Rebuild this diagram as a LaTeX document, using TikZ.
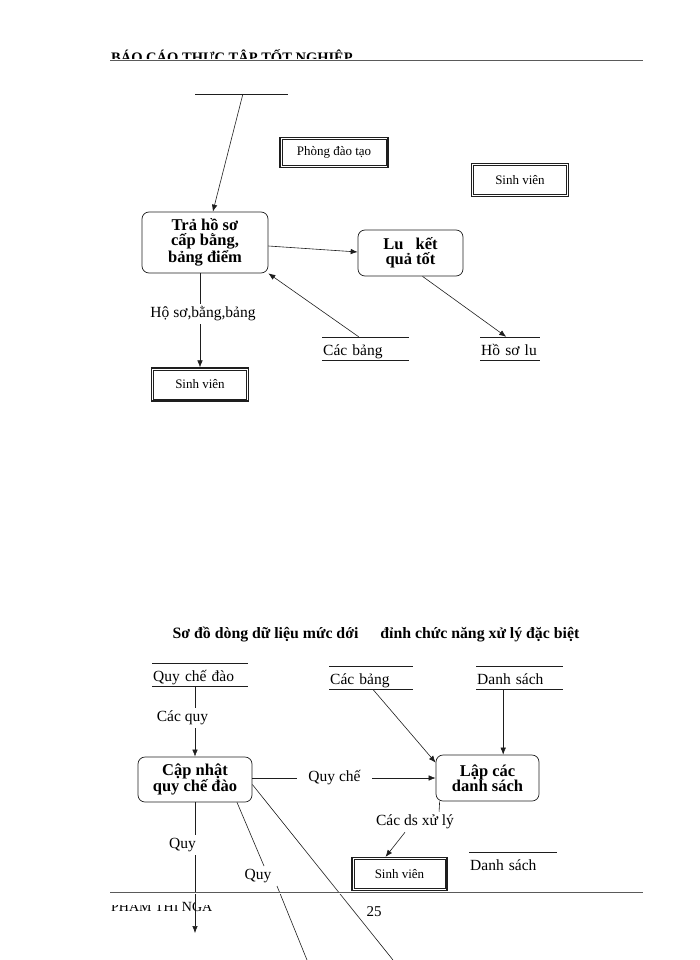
\documentclass[tikz,border=0pt]{standalone}
\usepackage{fontspec}
\setmainfont{Liberation Serif}
\usetikzlibrary{arrows.meta}
\definecolor{ink}{RGB}{30, 30, 30}
\definecolor{rulegray}{RGB}{90, 90, 90}

\tikzset{
  process/.style={draw=ink, line width=0.7pt, rounded corners=7pt, align=center,
                  inner sep=0pt, font=\bfseries\fontsize{16.5}{15}\selectfont},
  entity/.style={draw=ink, line width=1.2pt, inner sep=0pt, font=\fontsize{13}{14}\selectfont,
                 append after command={\pgfextra{\let\mainnode=\tikzlastnode
                   \draw[ink, line width=0.5pt] ([xshift=2.6pt,yshift=-2.6pt]\mainnode.north west)
                     rectangle ([xshift=-2.6pt,yshift=2.6pt]\mainnode.south east);}}},
  store/.style={anchor=west, align=left, inner xsep=1pt, inner ysep=2.5pt,
                text height=15.5pt, text depth=2.5pt, font=\fontsize{15.5}{17}\selectfont},
  flowlabel/.style={inner sep=3pt, font=\fontsize{15.5}{17}\selectfont},
  flow/.style={draw=ink, line width=0.6pt},
  flowarrow/.style={flow, -{Latex[length=7pt,width=5.5pt]}},
  pagerule/.style={draw=rulegray, double, double distance=1pt, line width=0.6pt}
}

\begin{document}
\begin{tikzpicture}[x=1pt, y=-1pt]
            % Frame to keep the page margins:
            \useasboundingbox (0,0) rectangle (700,960);

            % Header
            \begin{scope}
              \clip (100,40) rectangle (360,59.5);
              \node[anchor=base west, inner sep=0pt, font=\bfseries\fontsize{14.5}{15}\selectfont] (hdr) at (111,63) {BÁO CÁO THỰC TẬP TỐT NGHIỆP};
            \end{scope}
            \draw[pagerule] (110,60) -- (643,60);

            % Upper diagram
            \node[store, text width=91pt, minimum height=23pt]          (st0)  at (195,106.5)   {};
            \draw[flow] (st0.north west) -- (st0.north east);
            \node[entity, minimum width=108pt, minimum height=30pt]     (pdt)  at (334,152.5)   {Phòng đào tạo};
            \node[entity, minimum width=97pt,  minimum height=33pt]     (sv1)  at (520,180)     {Sinh viên};
            \node[process, minimum width=126pt, minimum height=61pt]    (tra)  at (205,242.5)   {Trả hồ sơ\\cấp bằng,\\bảng điểm};
            \node[process, minimum width=105pt, minimum height=46pt]    (lu)   at (410.5,253)   {Lu\hspace{8pt} kết\\quả tốt};
            \node[flowlabel]                                            (hsbb) at (203,314)     {Hộ sơ,bằng,bảng};
            \node[entity, minimum width=97pt,  minimum height=33pt]     (sv2)  at (200,384.5)   {Sinh viên};
            \node[store, text width=85pt, minimum height=23pt]          (cb1)  at (322,348.5)   {Các bảng};
            \node[store, text width=58pt, minimum height=23pt]          (hsl)  at (480,348.5)   {Hồ sơ lu};
            \draw[flow] (cb1.north west) -- (cb1.north east) (cb1.south west) -- (cb1.south east);
            \draw[flow] (hsl.north west) -- (hsl.north east) (hsl.south west) -- (hsl.south east);

            \draw[flowarrow] ([xshift=1pt]st0.north)    -- (tra);
            \draw[flowarrow] ([yshift=-3.5pt]tra.east)  -- ([yshift=1pt]lu.west);
            \draw[flowarrow] ([xshift=-7pt]cb1.north)   -- (tra.south east);
            \draw[flowarrow] ([xshift=12pt]lu.south)    -- ([xshift=-4pt]hsl.north);
            \draw[flow]      (tra.south -| sv2.north)   -- (hsbb.north -| sv2.north);
            \draw[flowarrow] (hsbb.south -| sv2.north)  -- (sv2.north);

            % Lower diagram
            \node[font=\bfseries\fontsize{15.8}{17}\selectfont, inner sep=0pt] (ttl) at (376,634) {Sơ đồ dòng dữ liệu mức dới\hspace{18pt} đỉnh chức năng xử lý đặc biệt};
            \node[store, text width=94pt, minimum height=23pt]          (qcd)  at (152,674.5)   {Quy chế đào};
            \node[store, text width=82pt, minimum height=22pt]          (cb2)  at (329,678)     {Các bảng};
            \node[store, text width=85pt, minimum height=22pt]          (ds1)  at (476,678)     {Danh sách};
            \draw[flow] (qcd.north west) -- (qcd.north east) (qcd.south west) -- (qcd.south east);
            \draw[flow] (cb2.north west) -- (cb2.north east) (cb2.south west) -- (cb2.south east);
            \draw[flow] (ds1.north west) -- (ds1.north east) (ds1.south west) -- (ds1.south east);
            \node[flowlabel]                                            (cq)   at (182.5,718)   {Các quy};
            \node[process, minimum width=114pt, minimum height=45pt]    (cn)   at (195,779.5)   {Cập nhật\\quy chế đào};
            \node[process, minimum width=103pt, minimum height=46pt]    (lap)  at (487.5,778)   {Lập các\\danh sách};
            \node[flowlabel, minimum width=75pt, inner sep=0pt]         (qc)   at (334.5,778)   {Quy chế};
            \node[flowlabel]                                            (cds)  at (415,822)     {Các ds xử lý};
            \node[entity, minimum width=95pt,  minimum height=33pt]     (sv3)  at (399.5,874)   {Sinh viên};
            \node[store, text width=86pt, minimum height=23pt]          (ds2)  at (469,864)     {Danh sách};
            \draw[flow] (ds2.north west) -- (ds2.north east);
            \node[flowlabel]                                            (q1)   at (182.5,845)   {Quy};
            \node[flowlabel]                                            (q2)   at (258,876)     {Quy};
            \coordinate (e1) at (195,933);
            \coordinate (e2) at (307,960);
            \coordinate (e3) at (393,960);

            \draw[flow]      (qcd.south -| cn.north)        -- (cq.north -| cn.north);
            \draw[flowarrow] (cq.south -| cn.north)         -- (cn.north);
            \draw[flowarrow] ([xshift=2pt]cb2.south)        -- ([yshift=-8pt]lap.north west);
            \draw[flowarrow] ([xshift=-16.5pt]ds1.south)    -- ([xshift=-16.5pt]ds1.south |- lap.north);
            \draw[flow]      (cn.east |- qc.west)           -- (qc.west);
            \draw[flowarrow] (qc.east)                      -- (lap.west |- qc.east);
            \draw[flow]      ([xshift=4pt]lap.south west)   -- ([xshift=-18pt]cds.north east);
            \draw[flowarrow] ([xshift=-10pt]cds.south)      -- ([xshift=-14pt]sv3.north);
            \draw[flow]      (cn.south)                     -- (q1.north -| cn.south);
            \draw[flowarrow] (q1.south -| cn.south)         -- (e1);
            \draw[flow]      ([xshift=42pt]cn.south)        -- ([xshift=6pt]q2.north);
            \draw[flow]      ([xshift=19pt]q2.south)        -- (e2);
            \draw[flow]      ([yshift=-5pt]cn.east)         -- (e3);

            % Footer
            \draw[pagerule] (110,893) -- (643,893);
            \begin{scope}
              \clip (100,905) rectangle (182,920) (182,895) rectangle (194,920) (194,905) rectangle (260,920);
              \node[anchor=base west, inner sep=0pt, font=\fontsize{14}{15}\selectfont] (ftr) at (111,911) {PHAM THI NGA};
            \end{scope}
            \node[anchor=base, inner sep=0pt, font=\fontsize{15}{16}\selectfont] (pg) at (374,916) {25};
\end{tikzpicture}
\end{document}
